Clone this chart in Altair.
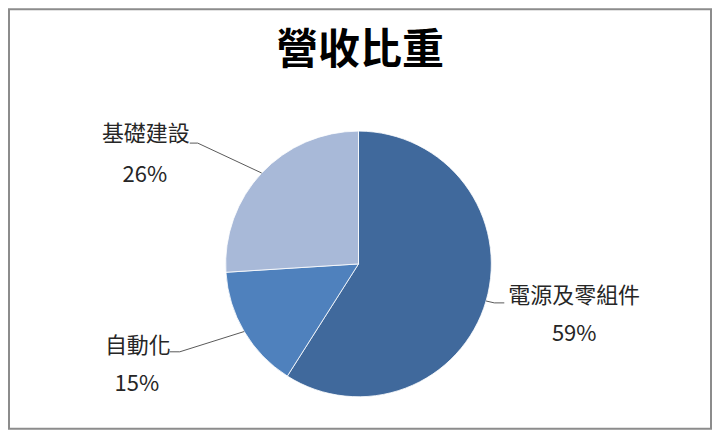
import math
import altair as alt
import pandas as pd

# ---- data ----
TITLE = "營收比重"
CATEGORIES = ["電源及零組件", "自動化", "基礎建設"]
SHARES = [59, 15, 26]
PCT_LABELS = ["59%", "15%", "26%"]

# ---- styles / layout ----
COLORS = ["#40699C", "#4F81BD", "#A8B9D8"]
FONT = "Noto Sans CJK TC"
W, H = 703, 420
CX, CY, R = 350, 255, 133
# label layout in view pixels: name-line centre, pct-line centre, leader elbow, leader end
LAYOUT = {
    "電源及零組件": dict(nx=566, ny=287, px=566, py=325, ex=486, ey=294, hx=496, hy=294),
    "自動化": dict(nx=129, ny=337, px=128, py=375, ex=171, ey=343, hx=161, hy=343),
    "基礎建設": dict(nx=137, ny=125, px=136, py=166, ex=189, ey=134, hx=181, hy=134),
}

pie_df = pd.DataFrame({"category": CATEGORIES, "share": SHARES,
                       "idx": list(range(len(CATEGORIES)))})

# leader lines: start at slice edge (mid angle), elbow, end
total = sum(SHARES)
rows, lab_rows = [], []
cum = 0
for cat, s, p in zip(CATEGORIES, SHARES, PCT_LABELS):
    mid = (cum + s / 2) / total * 2 * math.pi
    cum += s
    ex0 = CX + R * math.sin(mid)
    ey0 = CY - R * math.cos(mid)
    L = LAYOUT[cat]
    rows += [dict(category=cat, pt=0, x=ex0, y=ey0),
             dict(category=cat, pt=1, x=L["ex"], y=L["ey"]),
             dict(category=cat, pt=2, x=L["hx"], y=L["hy"])]
    lab_rows.append(dict(category=cat, pct=p, nx=L["nx"], ny=L["ny"],
                         px=L["px"], py=L["py"]))
lines_df = pd.DataFrame(rows)
lab_df = pd.DataFrame(lab_rows)
title_df = pd.DataFrame({"t": [TITLE], "x": [W / 2], "y": [42]})

xs = alt.Scale(domain=[0, W], nice=False, zero=False)
ys = alt.Scale(domain=[0, H], nice=False, zero=False, reverse=True)

pie = alt.Chart(pie_df).mark_arc(outerRadius=R, stroke="#ffffff", strokeWidth=0.8).encode(
    theta=alt.Theta("share:Q", stack=True),
    color=alt.Color("category:N", scale=alt.Scale(domain=CATEGORIES, range=COLORS), legend=None),
    order=alt.Order("idx:Q"),
    x=alt.value(CX),
    y=alt.value(CY),
)

leaders = alt.Chart(lines_df).mark_line(color="#595959", strokeWidth=1).encode(
    x=alt.X("x:Q", scale=xs, axis=None),
    y=alt.Y("y:Q", scale=ys, axis=None),
    detail="category:N",
    order=alt.Order("pt:Q"),
)

names = alt.Chart(lab_df).mark_text(font=FONT, fontSize=22, color="#262626",
                                    align="center", baseline="middle").encode(
    x=alt.X("nx:Q", scale=xs, axis=None),
    y=alt.Y("ny:Q", scale=ys, axis=None),
    text="category:N",
)

pcts = alt.Chart(lab_df).mark_text(font=FONT, fontSize=22, color="#262626",
                                   align="center", baseline="middle").encode(
    x=alt.X("px:Q", scale=xs, axis=None),
    y=alt.Y("py:Q", scale=ys, axis=None),
    text="pct:N",
)

title = alt.Chart(title_df).mark_text(font=FONT, fontSize=42, fontWeight="bold", color="#000000",
                                      align="center", baseline="middle").encode(
    x=alt.X("x:Q", scale=xs, axis=None),
    y=alt.Y("y:Q", scale=ys, axis=None),
    text="t:N",
)

chart = alt.layer(pie, leaders, names, pcts, title).properties(
    width=W, height=H, padding=1, background="#ffffff"
).configure_view(stroke="#8C8C8C", strokeWidth=2)

chart.save("out.html", embed_options={"renderer": "svg", "actions": False})
